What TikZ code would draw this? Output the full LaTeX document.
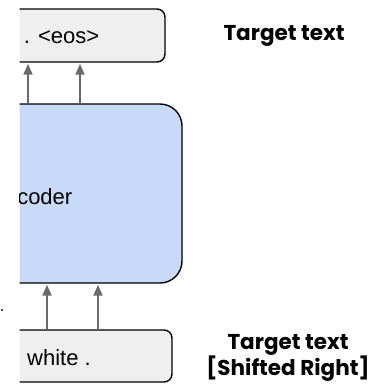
\documentclass[tikz,border=0pt]{standalone}
\usepackage{fontspec}
\setmainfont{Liberation Sans}
\newfontfamily\labelfont{Poppins}
\usetikzlibrary{arrows.meta}

\definecolor{tokgray}{HTML}{EFEFEF}
\definecolor{decblue}{HTML}{C9DAF8}
\definecolor{arrgray}{HTML}{6A6A6A}

\begin{document}
\begin{tikzpicture}[x=1pt, y=-1pt,
    tok/.style={draw=black, line width=1.4pt, fill=tokgray, rounded corners=8pt, inner sep=0pt},
    dec/.style={draw=black, line width=1.4pt, fill=decblue, rounded corners=22pt, inner sep=0pt},
    word/.style={inner sep=0pt, font=\fontsize{22}{26}\selectfont},
    side/.style={inner sep=0pt, align=center, font=\labelfont\bfseries\fontsize{21.5}{26}\selectfont},
    feed/.style={draw=arrgray, line width=2pt, -{Triangle[length=11pt, width=9pt]}}]
\useasboundingbox (0,0) rectangle (369,384);

% boxes cut off on the left
\begin{scope}
\clip (19.5,0) rectangle (369,384);
\node[tok, minimum width=225pt, minimum height=53pt] (tgt) at (52.5,35.5) {};
\node[dec, minimum width=300pt, minimum height=179pt] (decoder) at (32,193.5) {};
\node[tok, minimum width=232pt, minimum height=52pt] (inp) at (56,356) {};
\node[word, anchor=east] (dectxt) at (72.5,197) {Decoder};
\node[word, anchor=west] (inptxt) at (27,358) {white .};
\end{scope}
\begin{scope}
\clip (17,0) rectangle (369,384);
\node[word, anchor=east] (tgttxt) at (99.5,37) {e . <eos>};
\end{scope}

\coordinate (a1) at (28,0);
\coordinate (a2) at (80,0);
\coordinate (b1) at (47,0);
\coordinate (b2) at (98,0);

\draw[feed] (decoder.north -| a1) -- ([yshift=-1pt]tgt.south -| a1);
\draw[feed] (decoder.north -| a2) -- ([yshift=-1pt]tgt.south -| a2);
\draw[feed] (inp.north -| b1) -- ([yshift=-1pt]decoder.south -| b1);
\draw[feed] (inp.north -| b2) -- ([yshift=-1pt]decoder.south -| b2);

\fill (2,310) circle (1.2pt);

\node[side] (tgtlbl) at (284,36) {Target text};
\node[side] (inplbl) at (288,358) {Target text\\{[}Shifted Right{]}};
\end{tikzpicture}
\end{document}
